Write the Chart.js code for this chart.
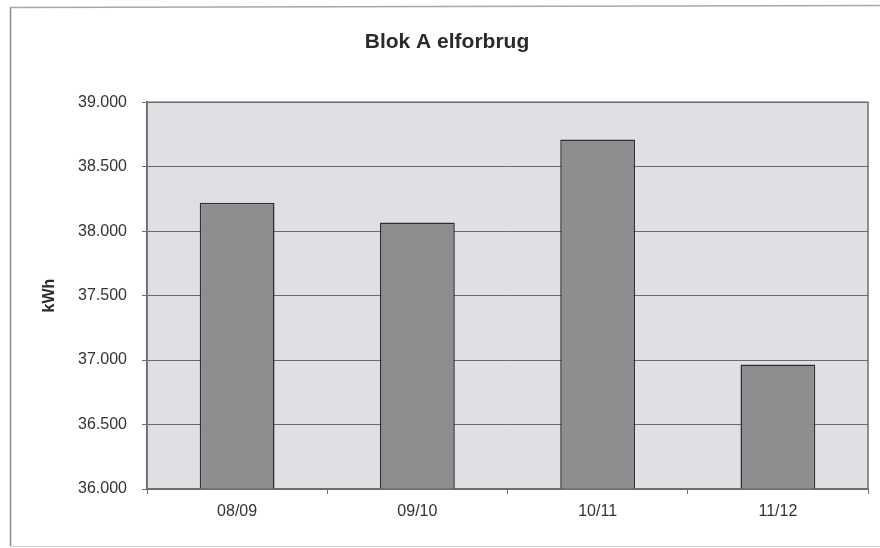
<!DOCTYPE html>
<html>
<head>
<meta charset="utf-8">
<script src="https://cdn.jsdelivr.net/npm/chart.js@4/dist/chart.umd.min.js"></script>
<style>
  html, body { margin: 0; padding: 0; background: #ffffff; }
  #wrap { width: 880px; height: 548px; position: relative; }
</style>
</head>
<body>
<div id="wrap"><canvas id="c" width="880" height="548"></canvas></div>
<script>
// ---- data ----
const categories = ['08/09', '09/10', '10/11', '11/12'];
const consumption = [38221, 38066, 38711, 36966];
const yMin = 36000;
const yMax = 39000;
const yStep = 500;
const chartTitle = 'Blok A elforbrug';
const yAxisTitle = 'kWh';

function fmtDa(v) {
  const th = Math.floor(v / 1000);
  const rest = String(Math.round(v % 1000)).padStart(3, '0');
  return th + '.' + rest;
}

const framePlugin = {
  id: 'frame',
  beforeDraw(chart) {
    const { ctx, chartArea: a } = chart;
    ctx.save();
    ctx.fillStyle = '#ffffff';
    ctx.fillRect(0, 0, chart.width, chart.height);
    // plot background
    ctx.fillStyle = '#e0dfe3';
    ctx.fillRect(a.left, a.top, a.right - a.left, a.bottom - a.top);
    // outer frame (left, top, bottom)
    ctx.lineWidth = 1.5;
    ctx.strokeStyle = '#8a8a8a';
    ctx.beginPath();
    ctx.moveTo(10.5, 7);
    ctx.lineTo(10.5, 546);
    ctx.stroke();
    ctx.strokeStyle = '#a8a8a8';
    ctx.beginPath();
    ctx.moveTo(10, 7.5);
    ctx.lineTo(880, 5.5);
    ctx.stroke();
    ctx.strokeStyle = '#d0d0d0';
    ctx.lineWidth = 1;
    ctx.beginPath();
    ctx.moveTo(10, 546.5);
    ctx.lineTo(880, 546.5);
    ctx.stroke();
    ctx.restore();
  },
  afterDraw(chart) {
    const { ctx, chartArea: a } = chart;
    ctx.save();
    ctx.strokeStyle = '#6e6e6e';
    ctx.lineWidth = 1.5;
    ctx.strokeRect(a.left, a.top, a.right - a.left, a.bottom - a.top);
    ctx.restore();
  }
};

new Chart(document.getElementById('c'), {
  type: 'bar',
  data: {
    labels: categories,
    datasets: [{
      data: consumption,
      backgroundColor: '#8e8e90',
      borderColor: '#2e2e2e',
      borderWidth: 1.5,
      categoryPercentage: 1.0,
      barPercentage: 0.415
    }]
  },
  options: {
    responsive: false,
    animation: false,
    devicePixelRatio: 1,
    layout: { padding: { left: 26, right: 12, top: 0, bottom: 0 } },
    plugins: {
      legend: { display: false },
      tooltip: { enabled: false },
      title: {
        display: true,
        text: chartTitle,
        color: '#2a2a2a',
        font: { family: 'Liberation Sans, Arial, sans-serif', size: 21, weight: 'bold' },
        padding: { top: 30, bottom: 47 }
      }
    },
    scales: {
      x: {
        grid: {
          offset: true,
          drawOnChartArea: false,
          drawTicks: true,
          tickLength: 5,
          color: '#6e6e6e',
          lineWidth: 1
        },
        border: { display: true, color: '#6e6e6e', width: 1.5 },
        ticks: {
          color: '#333333',
          padding: 8,
          font: { family: 'Liberation Sans, Arial, sans-serif', size: 16 }
        },
        afterFit(scale) { scale.height = 59; }
      },
      y: {
        min: yMin,
        max: yMax,
        ticks: {
          stepSize: yStep,
          color: '#333333',
          padding: 15,
          font: { family: 'Liberation Sans, Arial, sans-serif', size: 16 },
          callback: (v) => fmtDa(v)
        },
        grid: {
          color: '#6a6a6a',
          lineWidth: 1,
          drawTicks: true,
          tickLength: 5
        },
        border: { display: true, color: '#6e6e6e', width: 1.5 },
        title: {
          display: true,
          text: yAxisTitle,
          color: '#2a2a2a',
          font: { family: 'Liberation Sans, Arial, sans-serif', size: 16, weight: 'bold' },
          padding: { top: 14, bottom: 0 }
        },
        afterFit(scale) { scale.width = 121; }
      }
    }
  },
  plugins: [framePlugin]
});
</script>
</body>
</html>
